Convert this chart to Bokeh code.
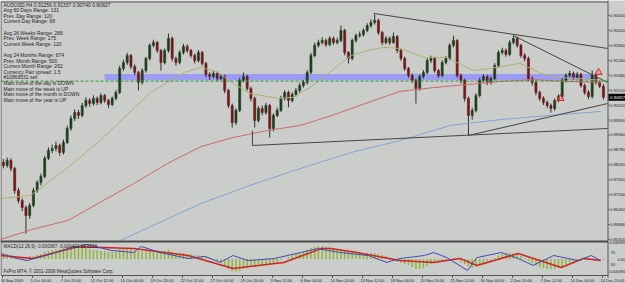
from bokeh.plotting import figure
from bokeh.models import Range1d, ColumnDataSource
from bokeh.embed import file_html
from bokeh.resources import INLINE
from bokeh.core.properties import value

# ------------------------------------------------------------------ data
# AUDUSD H4, one candle per two H4 bars (bar index = 2k + 0.5)
first_open = 0.8830
closes = [
    0.8817, 0.8837, 0.8806, 0.8720, 0.8681, 0.8654, 0.8623, 0.8662, 0.8720, 0.8751,
    0.8775, 0.8845, 0.8876, 0.8883, 0.8895, 0.8868, 0.8907, 0.8961, 0.9000, 0.9023,
    0.9012, 0.9050, 0.9070, 0.9058, 0.9078, 0.9062, 0.9089, 0.9070, 0.9054, 0.9078,
    0.9101, 0.9194, 0.9217, 0.9245, 0.9202, 0.9179, 0.9140, 0.9186, 0.9233, 0.9284,
    0.9295, 0.9264, 0.9217, 0.9264, 0.9311, 0.9233, 0.9217, 0.9256, 0.9280, 0.9264,
    0.9245, 0.9225, 0.9256, 0.9214, 0.9171, 0.9163, 0.9175, 0.9155, 0.9163, 0.9109,
    0.9050, 0.8984, 0.9031, 0.9148, 0.9163, 0.9116, 0.9078, 0.8992, 0.9039, 0.9023,
    0.9050, 0.8961, 0.9012, 0.9031, 0.9078, 0.9101, 0.9070, 0.9093, 0.9109, 0.9128,
    0.9140, 0.9179, 0.9245, 0.9284, 0.9295, 0.9303, 0.9287, 0.9311, 0.9295, 0.9303,
    0.9342, 0.9256, 0.9233, 0.9303, 0.9322, 0.9326, 0.9342, 0.9361, 0.9373, 0.9381,
    0.9334, 0.9295, 0.9311, 0.9295, 0.9318, 0.9264, 0.9233, 0.9194, 0.9167, 0.9148,
    0.9116, 0.9163, 0.9179, 0.9225, 0.9233, 0.9186, 0.9167, 0.9217, 0.9233, 0.9284,
    0.9303, 0.9167, 0.9148, 0.9078, 0.9012, 0.9031, 0.9089, 0.9148, 0.9163, 0.9140,
    0.9155, 0.9206, 0.9256, 0.9264, 0.9249, 0.9295, 0.9311, 0.9284, 0.9245, 0.9233,
    0.9155, 0.9140, 0.9101, 0.9078, 0.9062, 0.9050, 0.9039, 0.9070, 0.9085, 0.9148,
    0.9167, 0.9175, 0.9159, 0.9171, 0.9128, 0.9101, 0.9085, 0.9167, 0.9140, 0.91256,
    0.90827,
]
highs = [
    0.8842, 0.8848, 0.8845, 0.8812, 0.8731, 0.8690, 0.8662, 0.8672, 0.8731, 0.8760,
    0.8786, 0.8855, 0.8888, 0.8898, 0.8910, 0.8902, 0.8918, 0.8972, 0.9012, 0.9035,
    0.9033, 0.9060, 0.9082, 0.9079, 0.9090, 0.9085, 0.9098, 0.9095, 0.9076, 0.9085,
    0.9110, 0.9205, 0.9228, 0.9255, 0.9250, 0.9210, 0.9185, 0.9195, 0.9240, 0.9292,
    0.9306, 0.9301, 0.9270, 0.9272, 0.9330, 0.9318, 0.9240, 0.9265, 0.9290, 0.9288,
    0.9270, 0.9252, 0.9266, 0.9262, 0.9220, 0.9180, 0.9186, 0.9182, 0.9172, 0.9170,
    0.9115, 0.9058, 0.9040, 0.9158, 0.9178, 0.9170, 0.9124, 0.9085, 0.9048, 0.9050,
    0.9060, 0.9056, 0.9020, 0.9042, 0.9088, 0.9110, 0.9108, 0.9102, 0.9118, 0.9138,
    0.9150, 0.9188, 0.9255, 0.9294, 0.9306, 0.9315, 0.9310, 0.9320, 0.9318, 0.9314,
    0.9361, 0.9348, 0.9262, 0.9310, 0.9330, 0.9338, 0.9350, 0.9370, 0.9385, 0.9404,
    0.9388, 0.9340, 0.9320, 0.9318, 0.9334, 0.9324, 0.9270, 0.9240, 0.9200, 0.9175,
    0.9155, 0.9172, 0.9188, 0.9234, 0.9244, 0.9240, 0.9192, 0.9226, 0.9242, 0.9292,
    0.9322, 0.9308, 0.9175, 0.9155, 0.9085, 0.9042, 0.9098, 0.9158, 0.9172, 0.9170,
    0.9164, 0.9215, 0.9265, 0.9275, 0.9272, 0.9304, 0.9322, 0.9318, 0.9290, 0.9254,
    0.9240, 0.9164, 0.9148, 0.9108, 0.9086, 0.9070, 0.9058, 0.9078, 0.9094, 0.9158,
    0.9176, 0.9186, 0.9182, 0.9180, 0.9178, 0.9135, 0.9110, 0.9186, 0.9175, 0.9148,
    0.91337,
]
lows = [
    0.8806, 0.8809, 0.8795, 0.8708, 0.8670, 0.8640, 0.8553, 0.8610, 0.8655, 0.8712,
    0.8740, 0.8768, 0.8838, 0.8865, 0.8872, 0.8855, 0.8860, 0.8900, 0.8952, 0.8990,
    0.8998, 0.9005, 0.9041, 0.9046, 0.9050, 0.9052, 0.9055, 0.9060, 0.9040, 0.9048,
    0.9070, 0.9095, 0.9185, 0.9208, 0.9192, 0.9168, 0.9109, 0.9132, 0.9178, 0.9225,
    0.9276, 0.9255, 0.9186, 0.9210, 0.9256, 0.9222, 0.9205, 0.9210, 0.9248, 0.9255,
    0.9236, 0.9214, 0.9218, 0.9205, 0.9160, 0.9150, 0.9155, 0.9145, 0.9148, 0.9098,
    0.9040, 0.8965, 0.8975, 0.9025, 0.9140, 0.9108, 0.9066, 0.8965, 0.8985, 0.9012,
    0.9015, 0.8926, 0.8950, 0.9005, 0.9025, 0.9070, 0.9043, 0.9062, 0.9085, 0.9100,
    0.9120, 0.9132, 0.9172, 0.9238, 0.9276, 0.9287, 0.9278, 0.9280, 0.9286, 0.9288,
    0.9296, 0.9245, 0.9214, 0.9226, 0.9295, 0.9314, 0.9318, 0.9335, 0.9352, 0.9365,
    0.9325, 0.9286, 0.9288, 0.9286, 0.9290, 0.9255, 0.9224, 0.9185, 0.9158, 0.9138,
    0.9058, 0.9108, 0.9155, 0.9172, 0.9215, 0.9178, 0.9158, 0.9160, 0.9210, 0.9226,
    0.9276, 0.9158, 0.9136, 0.9066, 0.8934, 0.8995, 0.9024, 0.9082, 0.9140, 0.9130,
    0.9132, 0.9148, 0.9198, 0.9248, 0.9240, 0.9242, 0.9288, 0.9275, 0.9236, 0.9222,
    0.9145, 0.9128, 0.9090, 0.9068, 0.9052, 0.9040, 0.9023, 0.9030, 0.9062, 0.9078,
    0.9140, 0.9158, 0.9150, 0.9152, 0.9120, 0.9092, 0.9075, 0.9078, 0.9132, 0.9118,
    0.90740,
]

macd_hist = [
    0.0026, 0.0026, 0.0020, 0.0015, 0.0010, 0.0010, 0.0010, 0.0015, 0.0015, 0.0020, 0.0026,
    0.0036, 0.0041, 0.0046, 0.0051, 0.0051, 0.0056, 0.0061, 0.0066, 0.0066, 0.0061, 0.0061, 0.0056,
    0.0051, 0.0046, 0.0046, 0.0041, 0.0041, 0.0036, 0.0036, 0.0041, 0.0051, 0.0051, 0.0056, 0.0051, 0.0046,
    0.0041, 0.0041, 0.0041, 0.0046, 0.0046, 0.0041, 0.0036, 0.0041, 0.0046, 0.0036, 0.0031, 0.0031, 0.0031, 0.0026,
    0.0026, 0.0020, 0.0020, 0.0015, 0.0010, 0.0005, 0.0,
    -0.0010, -0.0020, -0.0036, -0.0051, -0.0062, -0.0064, -0.0061, -0.0051, -0.0046, -0.0041, -0.0041,
    -0.0036, -0.0031, -0.0026, -0.0026, -0.0020, -0.0015, -0.0005, 0.0,
    0.0010, 0.0020, 0.0026, 0.0031, 0.0036, 0.0046, 0.0056, 0.0061, 0.0066, 0.0066, 0.0061, 0.0061,
    0.0056, 0.0051, 0.0051, 0.0041, 0.0036, 0.0036, 0.0036,
    0.0031, 0.0031, 0.0031, 0.0031, 0.0031, 0.0026, 0.0020, 0.0015,
    -0.0005, -0.0010, -0.0015, -0.0020, -0.0026, -0.0031,
    -0.0041, -0.0051, -0.0051, -0.0046,
    -0.0036, -0.0026, -0.0020, -0.0015, -0.0010, -0.0005,
    0.0, 0.0005, 0.0,
    -0.0015, -0.0026, -0.0036, -0.0046, -0.0041, -0.0031,
    -0.0020, -0.0010, -0.0005, 0.0005, 0.0015,
    0.0026, 0.0031, 0.0031, 0.0031, 0.0026, 0.0015,
    0.0005, -0.0010, -0.0020, -0.0031, -0.0041, -0.0046, -0.0051, -0.0051, -0.0051, -0.0046, -0.0041, -0.0031, -0.0020,
    -0.0015, -0.0010, -0.0010, -0.0005, -0.0005, 0.0, 0.0, -0.0005, -0.0005,
]
signal_bars = [-1, 16, 40, 70, 99, 123, 150, 170, 175, 189, 212, 230, 244, 253, 275, 298, 310, 319]
signal_vals = [0.0018, 0.0003, 0.0062, 0.0053, 0.0018, -0.0048, -0.0018, 0.0053, 0.0053, 0.0033,
               -0.0008, -0.0018, 0.0003, -0.0033, 0.0028, -0.0043, 0.0003, -0.0008]
osc_bars = [-1, 6, 13, 23, 35, 45, 58, 70, 74, 84, 99, 108, 116, 123, 131, 145, 159, 168, 180, 195,
            205, 212, 225, 230, 237, 248, 253, 266, 275, 283, 294, 307, 314, 319]
osc_vals = [67, 53, 43, 60, 83, 97, 77, 70, 90, 70, 50, 57, 37, 60, 43, 50, 70, 83, 70, 60,
            37, 50, 60, 70, 53, 10, 53, 70, 50, 27, 60, 43, 60, 43]

ma_olive_bars = [-1, 15, 35, 52, 79, 97, 106, 115, 123, 132, 147, 155, 164, 171, 179, 186, 195, 203,
                 212, 225, 237, 251, 260, 276, 287, 298, 308, 319]
ma_olive = [0.8689, 0.8701, 0.8810, 0.8914, 0.9101, 0.9179, 0.9198, 0.9179, 0.9136, 0.9097, 0.9078,
            0.9082, 0.9120, 0.9159, 0.9206, 0.9245, 0.9264, 0.9276, 0.9272, 0.9237, 0.9237, 0.9186,
            0.9194, 0.9214, 0.9175, 0.9159, 0.9155, 0.9148]
ma_red_bars = [-1, 16, 35, 52, 70, 88, 106, 123, 141, 159, 177, 195, 212, 230, 248, 266, 283, 301, 319]
ma_red = [0.8530, 0.8569, 0.8604, 0.8674, 0.8747, 0.8825, 0.8891, 0.8926, 0.8953, 0.8973, 0.9015,
          0.9062, 0.9105, 0.9120, 0.9132, 0.9144, 0.9151, 0.9144, 0.9140]
ma_blue_bars = [63, 79, 106, 132, 159, 186, 212, 239, 266, 292, 319]
ma_blue = [0.8526, 0.8580, 0.8670, 0.8740, 0.8806, 0.8868, 0.8914, 0.8973, 0.8996, 0.9012, 0.9027]

# drawn trend lines (bar index, price)
tl_bar0 = [198, 272.5, 133.3, 133.3, 248.5]
tl_price0 = [0.9408, 0.9322, 0.8953, 0.8895, 0.8934]
tl_bar1 = [322.7, 322.7, 133.3, 322.7, 322.7]
tl_price1 = [0.9272, 0.9140, 0.8895, 0.8961, 0.9058]

zone_bars = [54.4, 317.0]
zone_prices = [0.9148, 0.9173]
order_price = 0.9145
arrow_bars = [297.6, 317.9]
arrow_prices = [0.9078, 0.9179]

time_labels = ["30 Sep 2009", "5 Oct 04:00", "7 Oct 20:00", "12 Oct 12:00", "15 Oct 04:00",
               "19 Oct 20:00", "22 Oct 12:00", "27 Oct 04:00", "29 Oct 20:00", "3 Nov 12:00",
               "6 Nov 04:00", "10 Nov 20:00", "13 Nov 12:00", "18 Nov 04:00", "20 Nov 20:00",
               "25 Nov 12:00", "30 Nov 04:00", "2 Dec 20:00", "7 Dec 12:00", "10 Dec 04:00",
               "14 Dec 20:00"]
time_bars = [16 * i for i in range(len(time_labels))]
price_ticks = [0.94000, 0.93420, 0.92840, 0.92260, 0.91680, 0.91100, 0.90520, 0.89940,
               0.89360, 0.88780, 0.88200, 0.87620, 0.87040, 0.86460, 0.85880, 0.85300]
price_labels = ["%.5f" % v for v in price_ticks]
macd_ticks = [0.008396, 0.0, -0.006396]
macd_labels = ["0.008396", "0.00", "-0.006396"]
osc_ticks = [70, 30]
osc_labels = ["70", "30"]
last_price = 0.90827

comment = ["AUDUSD,H4  0.91256 0.91337 0.90740 0.90827",
           "Avg 60 Days Range: 131", "Prev. Day Range: 120", "Current Day Range: 98", "",
           "Avg 26 Weeks Range: 266", "Prev. Week Range: 175", "Current Week Range: 120", "",
           "Avg 24 Months Range: 674", "Prev. Month Range: 500", "Current Month Range: 262",
           "Currency Pair spread: 1.5", "#10969531 sell",
           "Main move of the day is DOWN", "Main move of the week is UP",
           "Main move of the month is DOWN", "Main move of the year is UP"]
macd_title = "MACD(12,26,9) -0.000367 -0.000402 38.6156"
footer = "FxPro MT4, \u00a9 2001-2009 MetaQuotes Software Corp."

# ------------------------------------------------------------------ layout
W, H = 625, 283
BAR_PX = 1.875
X_ORIGIN = 2.0
PRICE_PER_PX = 0.0058 / 14.93
PRICE_TOP = 0.94 + 15 * PRICE_PER_PX
MACD_PER_PX = 0.000509
MACD_ZERO_PX = 258.5
OSC_PER_PX = 40.0 / 12.0
OSC_50_PX = 258.0
AXIS_X = 607.5


def bx(px):
    return (px - X_ORIGIN) / BAR_PX


def py(px):
    return PRICE_TOP - px * PRICE_PER_PX


BG = "#cbcdcb"
FONT = value("Liberation Sans")
TXT = "#1e1e1e"

p = figure(width=W, height=H, title=None, output_backend="svg", toolbar_location=None,
           x_axis_type=None, y_axis_type=None, min_border=0,
           x_range=Range1d(bx(0), bx(W)), y_range=Range1d(py(H), py(0)),
           background_fill_color=BG, border_fill_color=BG, outline_line_color=None)
p.extra_y_ranges = {
    "macd": Range1d((MACD_ZERO_PX - H) * MACD_PER_PX, MACD_ZERO_PX * MACD_PER_PX),
    "osc": Range1d(50 + (OSC_50_PX - H) * OSC_PER_PX, 50 + OSC_50_PX * OSC_PER_PX),
}

# support / resistance zone
p.quad(left=[zone_bars[0]], right=[zone_bars[1]], bottom=[zone_prices[0]], top=[zone_prices[1]],
       fill_color="#9c9cf4", line_color=None)

# candles
n = len(closes)
bars = [2 * k + 0.5 for k in range(n)]
opens = [first_open] + closes[:-1]
src = ColumnDataSource(dict(x=bars, o=opens, c=closes, h=highs, l=lows,
                            top=[max(a, b) for a, b in zip(opens, closes)],
                            bot=[min(a, b) for a, b in zip(opens, closes)],
                            col=["#1f3d1f" if c >= o else "#6e1a1a" for o, c in zip(opens, closes)]))
p.segment(x0="x", y0="l", x1="x", y1="h", source=src, line_color="#2e2e2e", line_width=1)
p.vbar(x="x", width=1.1, top="top", bottom="bot", source=src, fill_color="col",
       line_color="col", line_width=0.6)

# moving averages
p.line(ma_olive_bars, ma_olive, line_color="#b0b070", line_width=1)
p.line(ma_red_bars, ma_red, line_color="#d06868", line_width=1)
p.line(ma_blue_bars, ma_blue, line_color="#7fa6d2", line_width=1)

# trend lines
p.segment(x0=tl_bar0, y0=tl_price0, x1=tl_bar1, y1=tl_price1, line_color="#454545", line_width=1)

# order line
p.segment(x0=[bx(0)], y0=[order_price], x1=[bx(AXIS_X)], y1=[order_price],
          line_color="#2f9a2f", line_width=1, line_dash="3 2")

# arrows
p.scatter(arrow_bars, arrow_prices, marker="triangle", size=7, line_color="#e02020",
          fill_color="#f08080", fill_alpha=0.5, line_width=1)

# MACD panel
p.vbar(x=bars, width=0.8, top=macd_hist, bottom=0, y_range_name="macd",
       fill_color="#8fb53a", line_color=None)
p.line(signal_bars, signal_vals, y_range_name="macd", line_color="#d42020", line_width=1.5)
p.line(osc_bars, osc_vals, y_range_name="osc", line_color="#4848b8", line_width=1)

# frame lines
frame_x0 = [bx(0.5), bx(0.5), bx(0.5), bx(0.5), bx(AXIS_X)]
frame_y0 = [py(1.5), py(1.5), py(241), py(275), py(0)]
frame_x1 = [bx(AXIS_X), bx(0.5), bx(AXIS_X), bx(AXIS_X), bx(AXIS_X)]
frame_y1 = [py(1.5), py(275), py(241), py(275), py(277)]
p.segment(x0=frame_x0, y0=frame_y0, x1=frame_x1, y1=frame_y1, line_color="#555555", line_width=1)
p.segment(x0=[bx(0)], y0=[py(241)], x1=[bx(AXIS_X)], y1=[py(241)], line_color="#4a4a4a", line_width=2)

# price axis labels (kept inside the 625 px canvas)
p.segment(x0=[bx(AXIS_X)] * len(price_ticks), y0=price_ticks, x1=[bx(AXIS_X + 1.5)] * len(price_ticks),
          y1=price_ticks, line_color="#555555", line_width=1)
p.text(x=[bx(609.5)] * len(price_ticks), y=price_ticks, text=price_labels, text_font=FONT,
       text_font_size="4.2px", text_color=TXT, text_baseline="middle", text_align="left")
p.quad(left=[bx(608)], right=[bx(W)], bottom=[last_price - 3.5 * PRICE_PER_PX],
       top=[last_price + 3.5 * PRICE_PER_PX], fill_color="#000000", line_color=None)
p.text(x=[bx(609.5)], y=[last_price], text=["%.5f" % last_price], text_font=FONT,
       text_font_size="4.2px", text_color="#ffffff", text_baseline="middle", text_align="left")
p.text(x=[bx(624.5)] * len(macd_ticks), y=macd_ticks, text=macd_labels, y_range_name="macd",
       text_font=FONT, text_font_size="3.8px", text_color=TXT, text_baseline="middle", text_align="right")
p.text(x=[bx(610)] * len(osc_ticks), y=osc_ticks, text=osc_labels, y_range_name="osc",
       text_font=FONT, text_font_size="4.2px", text_color=TXT, text_baseline="middle", text_align="left")

# time axis
p.segment(x0=time_bars, y0=[py(275)] * len(time_bars), x1=time_bars, y1=[py(277.5)] * len(time_bars),
          line_color="#555555", line_width=1)
p.text(x=time_bars, y=[py(279.5)] * len(time_bars), text=time_labels, text_font=FONT,
       text_font_size="4px", text_color=TXT, text_baseline="middle", text_align="left", x_offset=-2)

# comment block
cy = [py(4 + 5.6 * i) for i in range(len(comment))]
p.text(x=[bx(3)] * len(comment), y=cy, text=comment, text_font=FONT, text_font_size="5px",
       text_color=TXT, text_baseline="middle", text_align="left")
p.text(x=[bx(3)], y=[py(245.5)], text=[macd_title], text_font=FONT, text_font_size="4.6px",
       text_color=TXT, text_baseline="middle", text_align="left")
p.text(x=[bx(3)], y=[py(271)], text=[footer], text_font=FONT, text_font_size="4.6px",
       text_color=TXT, text_baseline="middle", text_align="left")

open("out.html", "w").write(file_html(p, INLINE))
